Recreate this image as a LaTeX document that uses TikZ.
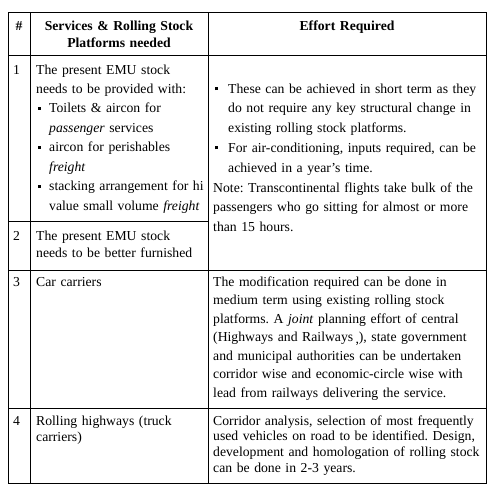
\documentclass[tikz,border=0pt]{standalone}
\usepackage{fontspec}
\setmainfont{Liberation Serif}
\frenchspacing
\newcommand{\sqb}{\rule[3pt]{3pt}{3pt}}
\newcommand{\bA}{\hspace*{2pt}\sqb\hspace*{8pt}}
\newcommand{\iA}{\hspace*{13pt}}
\newcommand{\bB}{\hspace*{2pt}\sqb\hspace*{10pt}}
\newcommand{\iB}{\hspace*{15pt}}
\tikzset{
  cellA/.style={anchor=base west, inner sep=0pt, text width=176pt, align=left,
    font=\fontsize{13.7}{19.45}\selectfont},
  cellB/.style={anchor=base west, inner sep=0pt, text width=284pt, align=left,
    font=\fontsize{13.7}{19.8}\selectfont},
  num/.style={anchor=base west, inner sep=0pt, font=\fontsize{13.7}{16}\selectfont},
  hdr/.style={anchor=base, inner sep=0pt, text width=176pt, align=center,
    font=\fontsize{13.7}{17}\selectfont\bfseries},
  rule/.style={line width=0.9pt, black}
}
\begin{document}
\begin{tikzpicture}[x=1pt,y=-1pt]
\useasboundingbox[fill=white] (0,0) rectangle (499,498);
% table rules
\draw[rule] (8,12) rectangle (486,483);
\draw[rule] (30,12) -- (30,483);
\draw[rule] (208,12) -- (208,483);
\draw[rule] (8,55) -- (486,55);
\draw[rule] (8,221) -- (208,221);
\draw[rule] (8,270) -- (486,270);
\draw[rule] (8,408) -- (486,408);
% header
\node[anchor=base, inner sep=0pt, font=\fontsize{13.7}{16}\selectfont\bfseries] (h1) at (19,30) {\#};
\node[hdr] (h2) at (119,30) {Services \& Rolling Stock\\Platforms needed};
\node[hdr] (h3) at (347,30) {Effort Required};
% numbers
\node[num] (n1) at (13,74) {1};
\node[num] (n2) at (13,240) {2};
\node[num] (n3) at (13,286) {3};
\node[num] (n4) at (13,425) {4};
% column 2
\node[cellA] (s1) at (36,74) {The present EMU stock\\
needs to be provided with:\\
\bA Toilets \& aircon for\\
\iA\textit{passenger} services\\
\bA aircon for perishables\\
\iA\textit{freight}\\
\bA stacking arrangement for hi\\
\iA value small volume \textit{freight}};
\node[cellA, font=\fontsize{13.7}{17.5}\selectfont] (s2) at (36,240) {The present EMU stock\\
needs to be better furnished};
\node[cellA] (s3) at (36,286) {Car carriers};
\node[cellA, font=\fontsize{13.7}{16}\selectfont] (s4) at (36,425) {Rolling highways (truck\\
carriers)};
% column 3
\node[cellB] (e1) at (213,93) {\bB These can be achieved in short term as they\\
\iB do not require any key structural change in\\
\iB existing rolling stock platforms.\\
\bB For air-conditioning, inputs required, can be\\
\iB achieved in a year’s time.\\
Note: Transcontinental flights take bulk of the\\
passengers who go sitting for almost or more\\
than 15 hours.};
\node[cellB, font=\fontsize{13.7}{18.5}\selectfont] (e3) at (213,286) {The modification required can be done in\\
medium term using existing rolling stock\\
platforms. A \textit{joint} planning effort of central\\
(Highways and Railways\,\raisebox{-2pt}{,}), state government\\
and municipal authorities can be undertaken\\
corridor wise and economic-circle wise with\\
lead from railways delivering the service.};
\node[cellB, font=\fontsize{13.7}{15.7}\selectfont] (e4) at (213,425) {Corridor analysis, selection of most frequently\\
used vehicles on road to be identified. Design,\\
development and homologation of rolling stock\\
can be done in 2-3 years.};
\end{tikzpicture}
\end{document}
